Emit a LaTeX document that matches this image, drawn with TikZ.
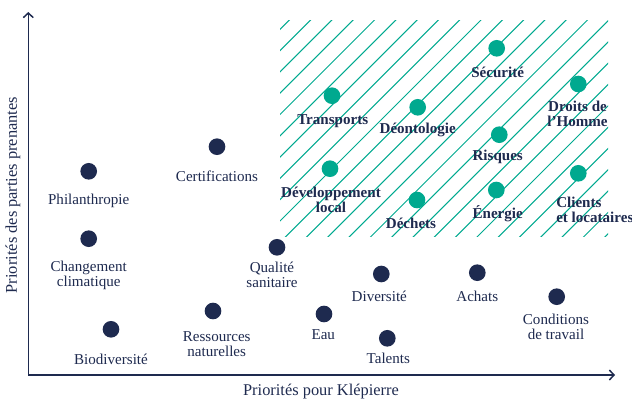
\documentclass[tikz,border=0pt]{standalone}
\usepackage{fontspec}
\setmainfont{Liberation Serif}
\usetikzlibrary{arrows.meta}
\definecolor{navy}{HTML}{1E2A4F}
\definecolor{kteal}{HTML}{00A98F}

\begin{document}
\begin{tikzpicture}[x=0.75pt, y=-0.75pt,
  lbl/.style={text=navy, font=\fontsize{11.3}{11.3}\selectfont, align=center, inner sep=0pt},
  hot/.style={lbl, font=\fontsize{11.3}{11.3}\selectfont\bfseries},
  axislbl/.style={lbl, font=\fontsize{12.3}{12.3}\selectfont},
  navydot/.style={circle, fill=navy, minimum size=12.5pt, inner sep=0pt},
  tealdot/.style={circle, fill=kteal, minimum size=12.5pt, inner sep=0pt},
  hatch/.style={draw=kteal, line width=0.75pt},
  axis/.style={draw=navy, line width=1.1pt, {Straight Barb[length=3.5pt,width=7.5pt]}-{Straight Barb[length=3.5pt,width=7.5pt]}}]

\useasboundingbox (0,0) rectangle (632,399);

% hatched zone
\begin{scope}
\clip (280,21) rectangle (608,237);
\foreach \k in {0,...,25}
  \draw[hatch] ({309.3+21.3*\k-260},260) -- ({309.3+21.3*\k},0);
\end{scope}

% axes
\coordinate (origin) at (28.3,375);
\coordinate (ytop) at (28.3,12);
\coordinate (xend) at (615,375);
\draw[axis] (ytop) -- (origin) -- (xend);

\node[axislbl, rotate=90] (ylabel) at (13,195) {Priorités des parties prenantes};
\node[axislbl] (xlabel) at (321,391.7) {Priorités pour Klépierre};

% lower priorities
\node[navydot] (philanthropie) at (88.7,171.3) {};
\node[lbl] (philanthropielbl) at (88.7,200.7) {Philanthropie};
\node[navydot] (certifications) at (217,146.7) {};
\node[lbl] (certificationslbl) at (217,176.7) {Certifications};
\node[navydot] (changement) at (88.7,238.7) {};
\node[lbl] (changementlbl) at (88.7,275) {Changement\\climatique};
\node[navydot] (qualite) at (277,247.3) {};
\node[lbl] (qualitelbl) at (272,275) {Qualité\\sanitaire};
\node[navydot] (ressources) at (213,311) {};
\node[lbl] (ressourceslbl) at (216.7,344) {Ressources\\naturelles};
\node[navydot] (biodiversite) at (111,329.3) {};
\node[lbl] (biodiversitelbl) at (111,359.3) {Biodiversité};
\node[navydot] (diversite) at (381.3,274) {};
\node[lbl] (diversitelbl) at (379.3,296.7) {Diversité};
\node[navydot] (achats) at (477.3,272.7) {};
\node[lbl] (achatslbl) at (477.3,296.7) {Achats};
\node[navydot] (conditions) at (556.7,296.7) {};
\node[lbl] (conditionslbl) at (556,327.2) {Conditions\\de travail};
\node[navydot] (eau) at (324,314) {};
\node[lbl] (eaulbl) at (323.3,335) {Eau};
\node[navydot] (talents) at (387.3,338.3) {};
\node[lbl] (talentslbl) at (388.3,358.3) {Talents};

% material issues
\node[tealdot] (securite) at (496.7,48.3) {};
\node[hot] (securitelbl) at (497.7,72) {Sécurité};
\node[tealdot] (droits) at (578.3,84) {};
\node[hot] (droitslbl) at (577.5,113.5) {Droits de\\l’Homme};
\node[tealdot] (transports) at (332,95.7) {};
\node[hot] (transportslbl) at (332.7,120.7) {Transports};
\node[tealdot] (deontologie) at (417.7,107.3) {};
\node[hot] (deontologielbl) at (417.7,130) {Déontologie};
\node[tealdot] (risques) at (499.3,134.7) {};
\node[hot] (risqueslbl) at (497.7,156.7) {Risques};
\node[tealdot] (devlocal) at (330,168.7) {};
\node[hot] (devlocallbl) at (331,200) {Développement\\local};
\node[tealdot] (dechets) at (417,200) {};
\node[hot] (dechetslbl) at (411,223.3) {Déchets};
\node[tealdot] (energie) at (496.3,190) {};
\node[hot] (energielbl) at (497.7,213.3) {Énergie};
\node[tealdot] (clients) at (578.3,173.3) {};
\node[hot, align=left, anchor=west] (clientslbl) at (556,210.3) {Clients\\et locataires};

\end{tikzpicture}
\end{document}
